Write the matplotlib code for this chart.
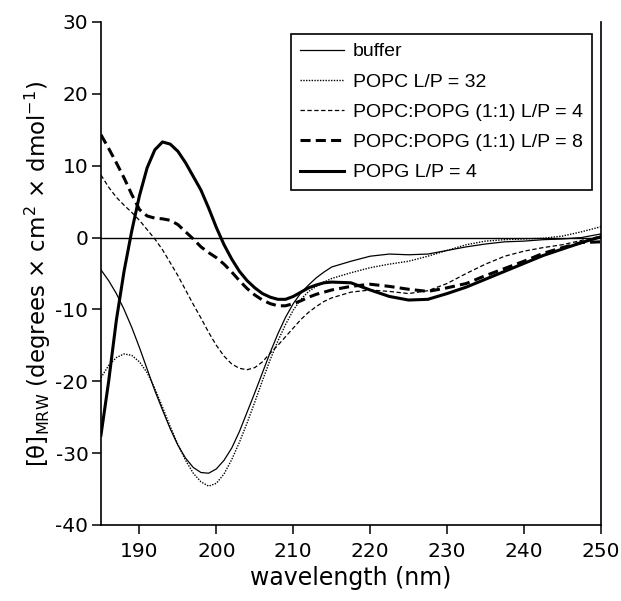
import matplotlib
matplotlib.use("Agg")
import matplotlib.pyplot as plt

plt.rcParams["axes.unicode_minus"] = False

# wavelength grid (nm) the curves were read at
wl = [185, 186, 187, 188, 189, 190, 191, 192, 193, 194, 195, 196, 197, 198, 199,
      200, 201, 202, 203, 204, 205, 206, 207, 208, 209, 210, 211, 212, 213, 214, 215,
      217.5, 220, 222.5, 225, 227.5, 230, 232.5, 235, 237.5, 240, 242.5, 245, 247.5, 250]

buffer = [-4.5, -6.0, -7.8, -10.0, -12.5, -15.3, -18.3, -21.3, -24.0, -26.6, -28.9, -30.7, -32.0, -32.7, -32.8,
          -32.2, -31.0, -29.3, -27.0, -24.3, -21.6, -18.8, -16.0, -13.4, -11.1, -9.2, -7.7, -6.6, -5.6, -4.8, -4.1,
          -3.3, -2.6, -2.3, -2.4, -2.3, -1.8, -1.3, -0.9, -0.6, -0.5, -0.3, -0.2, 0.0, 0.5]

popc_32 = [-19.5, -17.8, -16.7, -16.2, -16.4, -17.3, -18.8, -21.0, -23.6, -26.3, -28.8, -31.0, -32.8, -34.0, -34.6,
           -34.2, -32.9, -30.9, -28.5, -25.8, -22.9, -19.9, -17.0, -14.4, -12.1, -10.1, -8.6, -7.5, -6.8, -6.2, -5.7,
           -4.9, -4.2, -3.7, -3.3, -2.6, -1.8, -1.0, -0.5, -0.3, -0.2, -0.1, 0.2, 0.8, 1.5]

mix_4 = [8.7, 7.0, 5.6, 4.5, 3.5, 2.4, 1.1, -0.2, -1.7, -3.5, -5.3, -7.3, -9.3, -11.2, -13.2,
         -15.0, -16.5, -17.6, -18.2, -18.4, -18.1, -17.3, -16.1, -15.0, -13.8, -12.6, -11.4, -10.4, -9.6, -8.9, -8.4,
         -7.6, -7.3, -7.5, -7.8, -7.4, -6.4, -5.0, -3.7, -2.6, -1.9, -1.4, -1.0, -0.4, 0.2]

mix_8 = [14.3, 12.4, 10.4, 8.3, 6.0, 3.9, 3.0, 2.7, 2.6, 2.4, 1.8, 0.8, -0.2, -1.3, -2.1,
         -2.8, -3.7, -4.8, -6.0, -7.1, -8.0, -8.7, -9.2, -9.5, -9.5, -9.2, -8.8, -8.3, -7.9, -7.6, -7.3,
         -6.8, -6.5, -6.8, -7.2, -7.5, -7.0, -6.4, -5.3, -4.3, -3.3, -2.2, -1.4, -0.7, -0.6]

popg_4 = [-27.5, -20.0, -11.5, -4.7, 0.9, 5.8, 9.7, 12.2, 13.3, 13.0, 12.0, 10.4, 8.5, 6.6, 4.1,
          1.4, -1.0, -3.0, -4.7, -6.0, -7.0, -7.8, -8.3, -8.6, -8.6, -8.2, -7.6, -7.0, -6.6, -6.3, -6.2,
          -6.3, -7.3, -8.2, -8.7, -8.6, -7.8, -6.9, -5.8, -4.7, -3.6, -2.5, -1.6, -0.7, 0.1]

labels = ["buffer", "POPC L/P = 32", "POPC:POPG (1:1) L/P = 4",
          "POPC:POPG (1:1) L/P = 8", "POPG L/P = 4"]
xticks = [190, 200, 210, 220, 230, 240, 250]
yticks = [-40, -30, -20, -10, 0, 10, 20, 30]

fig = plt.figure(figsize=(6.21, 6.01), dpi=100)
ax = fig.add_axes([0.1626, 0.1265, 0.805, 0.837])

ax.axhline(0, color="black", lw=1.0, zorder=1)
ax.plot(wl, buffer, color="black", lw=0.9, label=labels[0])
ax.plot(wl, popc_32, color="black", lw=1.0, ls=(0, (1, 1)), label=labels[1])
ax.plot(wl, mix_4, color="black", lw=0.9, ls=(0, (3.5, 2)), label=labels[2])
ax.plot(wl, mix_8, color="black", lw=2.2, ls=(0, (3.3, 1.7)), label=labels[3])
ax.plot(wl, popg_4, color="black", lw=2.2, label=labels[4])

ax.set_xlim(185, 250)
ax.set_ylim(-40, 30)
ax.set_xticks(xticks)
ax.set_yticks(yticks)
ax.spines["top"].set_visible(False)
for s in ("left", "bottom", "right"):
    ax.spines[s].set_linewidth(1.2)
ax.tick_params(axis="both", direction="out", length=6.5, width=1.1, labelsize=14.5)
ax.tick_params(axis="x", pad=6)
ax.tick_params(axis="y", pad=2.5)

ax.set_xlabel("wavelength (nm)", fontsize=17, labelpad=3)
ax.set_ylabel(r"[θ]$_{\mathrm{MRW}}$ (degrees × cm$^{2}$ × dmol$^{-1}$)", fontsize=16.5, labelpad=2)

leg = ax.legend(loc="upper right", bbox_to_anchor=(0.982, 0.976), borderaxespad=0,
                fancybox=False, edgecolor="black", framealpha=1,
                handlelength=2.3, handletextpad=0.45, labelspacing=0.65, borderpad=0.45,
                prop={"family": ["Liberation Sans", "DejaVu Sans"], "size": 14})
leg.get_frame().set_linewidth(1.2)

fig.savefig("out.png", dpi=100)
